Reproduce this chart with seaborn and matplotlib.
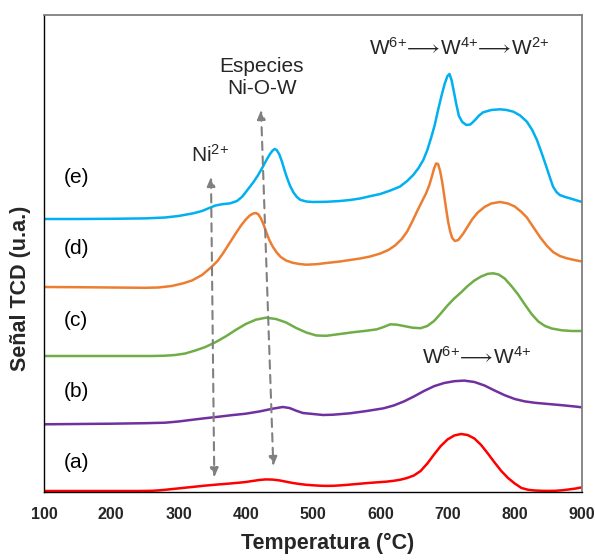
import matplotlib
matplotlib.use("Agg")
import matplotlib.pyplot as plt
import seaborn as sns
import pandas as pd

# ---------------- data ----------------
temp_a = [100, 150, 200, 240, 260, 270, 280, 290, 300, 310, 320, 330, 340, 350, 360, 370, 380, 390, 400, 410,
          420, 430, 440, 450, 460, 470, 480, 490, 500, 510, 520, 530, 540, 550, 560, 570, 580, 590, 600, 610,
          620, 630, 640, 650, 660, 670, 680, 690, 700, 710, 720, 730, 740, 750, 760, 770, 780, 790, 800, 810,
          820, 830, 840, 850, 860, 870, 880, 890, 900]
sig_a = [1, 1, 1, 1, 1.2, 1.6, 2.2, 2.9, 3.6, 4.3, 5, 5.7, 6.4, 7, 7.6, 8.1, 8.7, 9.3, 10, 11,
         12, 12.6, 12.4, 11.6, 10.3, 9, 8, 7.2, 6.7, 6.3, 6.1, 6.2, 6.6, 7.1, 7.7, 8.3, 8.9, 9.4, 9.9, 10.4,
         11.2, 12.3, 14, 16.5, 21, 28.5, 37.5, 46, 52.5, 56.5, 58, 57, 53.5, 47, 38.5, 29.5, 21, 14, 8.5, 4,
         2.2, 1.5, 1.2, 1.1, 1.2, 1.7, 2.5, 3.4, 4.7]

temp_b = [100, 150, 200, 250, 280, 300, 320, 340, 360, 380, 400, 420, 440, 455, 465, 475, 485, 500, 515, 530,
          555, 580, 605, 620, 635, 650, 665, 680, 695, 710, 725, 740, 755, 770, 785, 800, 815, 830, 850, 870,
          885, 900]
sig_b = [67.7, 68, 68.3, 68.8, 69.3, 70.5, 72.2, 73.8, 75.3, 76.9, 78.3, 80.5, 83.3, 85, 84, 81.3, 79, 78, 77, 77.3,
         78.7, 81, 83.7, 86.5, 90.5, 95.5, 101, 105.8, 109, 110.8, 111.4, 110, 106.5, 101.5, 96.8, 93, 90.6, 89.2, 88, 86.8,
         85.8, 84.7]

temp_c = [100, 200, 260, 280, 295, 310, 325, 340, 355, 370, 385, 400, 415, 430, 445, 460, 475, 490, 505, 520,
          540, 560, 580, 595, 605, 615, 625, 635, 648, 660, 670, 680, 690, 700, 710, 720, 730, 740, 750, 760,
          768, 776, 785, 795, 805, 815, 825, 835, 845, 855, 870, 885, 900]
sig_c = [136, 136, 136, 136.3, 137, 138.5, 141.5, 145, 149.8, 155.5, 162, 168, 172.3, 174.3, 173, 169.5, 164, 159.5, 156.5, 156.2,
         158, 159.8, 161.3, 162.7, 165, 167.7, 167.3, 166, 164.3, 163.8, 166, 171, 178.5, 186.5, 193.5, 199.5, 206, 211.5, 215.5, 218.2,
         218.7, 217.5, 213.5, 206, 197.5, 187.5, 178, 170.5, 166, 163.5, 161.7, 161, 161]

temp_d = [100, 150, 200, 250, 270, 290, 307, 320, 335, 349, 358, 367, 376, 385, 393, 400, 406, 411, 415, 419,
          423, 427, 431, 435, 440, 446, 452, 460, 470, 480, 490, 505, 520, 540, 555, 570, 585, 600, 612, 622,
          632, 640, 648, 655, 662, 668, 673, 677, 680, 683, 686, 689, 692, 695, 698, 701, 704, 707, 711, 716,
          723, 730, 737, 745, 755, 765, 778, 790, 800, 810, 818, 828, 838, 848, 857, 867, 877, 890, 900]
sig_d = [205, 204.8, 204.5, 204.2, 204.5, 206, 208.7, 211.5, 217, 225, 231, 239.5, 249, 258.5, 266.5, 272.5, 276.5, 278.5, 279, 277.5,
         273, 266.5, 259, 252, 245.5, 239.5, 235, 231.5, 229.2, 228, 227.3, 227.8, 229, 230.5, 232, 233.5, 235.5, 238.5, 242, 246.5,
         253, 260.5, 271, 281, 290.5, 298.5, 307, 316, 323.5, 328.5, 328, 321, 310.5, 297, 283, 270, 260.5, 254, 251, 252,
         258, 265.5, 273, 279.5, 285, 288.5, 290, 288.5, 285.5, 280, 274.5, 264.5, 254.5, 246, 240, 236, 233.8, 231.8, 230.5]

temp_e = [100, 150, 200, 250, 280, 300, 322, 335, 345, 355, 365, 377, 387, 395, 403, 411, 418, 424, 430, 436,
          440, 443, 446, 450, 454, 458, 462, 466, 471, 476, 481, 490, 500, 520, 540, 555, 570, 585, 600, 615,
          629, 640, 649, 657, 664, 670, 676, 681, 686, 691, 696, 700, 703, 706, 709, 713, 717, 722, 728, 734,
          741, 747, 753, 765, 778, 788, 798, 808, 818, 826, 833, 840, 847, 852, 857, 862, 867, 875, 882, 890,
          900]
sig_e = [273, 273, 273.2, 273.6, 274.5, 276, 278.7, 281, 283.8, 286.5, 287.8, 288.7, 291, 295.5, 302.5, 309.5, 316.5, 323.5, 331, 338,
         341.5, 343, 342, 337.5, 330, 321, 313, 306, 299.5, 295, 292.2, 290.5, 290, 290.2, 291, 292, 293.5, 295.8, 298, 301.5,
         305.3, 311, 317, 324, 332, 342, 355, 367, 382, 396, 408.7, 416, 418, 412, 402, 388, 376, 370, 367, 367.5,
         372, 376.5, 379.7, 382, 382.7, 382, 380.3, 376.5, 370.3, 362, 352, 339, 325.3, 315, 305.3, 300, 297, 295, 293.7, 292,
         290]

series_names = ["(a)", "(b)", "(c)", "(d)", "(e)"]
series_colors = ["#FF0000", "#7030A0", "#70AD47", "#ED7D31", "#00B0F0"]
label_temp = [147.6, 147.6, 147.6, 147.6, 147.6]
label_sig = [29.3, 100.3, 172, 244, 314.3]

x_ticks = [100, 200, 300, 400, 500, 600, 700, 800, 900]

# annotation arrows: (x_start, y_start, x_end, y_end)
arrow_ni = (348.3, 315, 353.2, 14.7)
arrow_niow = (422.7, 382, 441, 26)

# ---------------- build long table ----------------
frames = []
for name, t, s in zip(series_names, [temp_a, temp_b, temp_c, temp_d, temp_e],
                      [sig_a, sig_b, sig_c, sig_d, sig_e]):
    frames.append(pd.DataFrame({"T": t, "signal": s, "muestra": name}))
df = pd.concat(frames, ignore_index=True)

sns.set_theme(style="white")
plt.rcParams["font.family"] = ["Liberation Sans", "DejaVu Sans"]
plt.rcParams["mathtext.fontset"] = "custom"
plt.rcParams["mathtext.rm"] = "Liberation Sans"
plt.rcParams["mathtext.it"] = "Liberation Sans"
plt.rcParams["mathtext.bf"] = "Liberation Sans:bold"
plt.rcParams["mathtext.fallback"] = "stix"

fig = plt.figure(figsize=(5.95, 5.6), dpi=100)
ax = fig.add_axes([44 / 595, 68 / 560, 538 / 595, 477 / 560])

sns.lineplot(data=df, x="T", y="signal", hue="muestra", hue_order=series_names,
             palette=dict(zip(series_names, series_colors)), estimator=None,
             linewidth=1.8, legend=False, ax=ax, sort=False)

ax.set_xlim(100, 900)
ax.set_ylim(0, 477)
ax.set_xticks(x_ticks)
ax.set_xticklabels([str(v) for v in x_ticks], fontsize=11.5, fontweight="bold")
ax.set_yticks([])
ax.tick_params(axis="x", direction="in", length=4, width=1, color="black", pad=11)

for side in ["left", "bottom"]:
    ax.spines[side].set_color("black")
    ax.spines[side].set_linewidth(1.0)
for side in ["top", "right"]:
    ax.spines[side].set_color("#7f7f7f")
    ax.spines[side].set_linewidth(1.3)

ax.set_xlabel("Temperatura (°C)", fontsize=15.5, fontweight="bold")
ax.set_ylabel("Señal TCD (u.a.)", fontsize=15.5, fontweight="bold")
ax.xaxis.set_label_coords(0.528, -0.107)
ax.xaxis.label.set_va("center")
ax.yaxis.set_label_coords(-0.0446, 0.4277)
ax.yaxis.label.set_va("center")

for name, tx, ty in zip(series_names, label_temp, label_sig):
    ax.text(tx, ty, name, fontsize=15, ha="center", va="center", color="black")

ax.text(424, 414.5, "Especies\nNi-O-W", fontsize=15, ha="center", va="center", linespacing=1.15)
ax.text(346.8, 337, r"Ni$^{2{+}}$", fontsize=15, ha="center", va="center")
ax.text(717, 444, r"W$^{6{+}}\!\longrightarrow\!$W$^{4{+}}\!\longrightarrow\!$W$^{2{+}}$",
        fontsize=15, ha="center", va="center")
ax.text(743.4, 135, r"W$^{6{+}}\!\longrightarrow\!$W$^{4{+}}$", fontsize=15, ha="center", va="center")

for (x0, y0, x1, y1) in [arrow_ni, arrow_niow]:
    ax.annotate("", xy=(x1, y1), xytext=(x0, y0),
                arrowprops=dict(arrowstyle="<|-|>,head_length=0.45,head_width=0.2", color="#808080",
                                lw=1.5, linestyle=(0, (4, 3)), shrinkA=0, shrinkB=0))

fig.savefig("out.png", dpi=100)
